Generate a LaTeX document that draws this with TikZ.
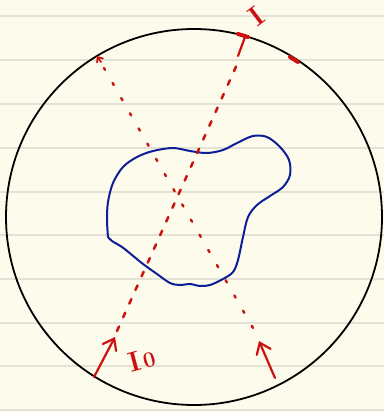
\documentclass[tikz,border=0pt]{standalone}
\usetikzlibrary{arrows.meta}
\definecolor{paper}{HTML}{FDFBEC}
\definecolor{rule}{HTML}{E4E2D6}
\definecolor{inkred}{HTML}{CC1111}
\definecolor{inkblue}{HTML}{0D1E96}
\tikzset{
  ruleline/.style={rule, line width=1.3pt},
  vessel/.style={black, line width=1.8pt},
  blob/.style={inkblue, line width=2pt, line join=round},
  beamA/.style={inkred, line width=2.5pt, line cap=round, dash pattern=on 5pt off 10pt},
  beamB/.style={inkred, line width=2.4pt, line cap=round, dash pattern=on 2.5pt off 15pt},
  ray/.style={inkred, line width=2.2pt, line cap=round, -{Straight Barb[length=10pt,width=15pt,line cap=round]}},
  smallray/.style={inkred, line width=1.8pt, line cap=round, -{Straight Barb[length=4pt,width=7pt,line cap=round]}},
  tick/.style={inkred, line width=4pt, line cap=round},
  lbl/.style={inkred, inner sep=0pt, font=\bfseries\fontsize{28}{28}\selectfont}
}
\begin{document}
\begin{tikzpicture}[x=1pt,y=-1pt]
\fill[paper] (0,0) rectangle (384,412);
\useasboundingbox (0,0) rectangle (384,412);
\foreach \y in {16,60,104,148,192,235,279,323,366,410}
  \draw[ruleline] (0,\y) -- (384,\y);
% vessel
\node[circle, draw, vessel, minimum size=376pt, inner sep=0pt] (vessel) at (194,217) {};
% object
\draw[blob] plot[smooth, tension=0.55] coordinates {
 (108,237) (107,220) (108,202) (113,183) (123,167) (137,157) (153,151) (173,148)
 (190,151) (207,153) (223,150) (237,143) (253,136) (267,137) (280,147) (289,160)
 (290,175) (283,187) (270,196) (257,205) (248,217) (243,237) (238,260) (233,272)
 (223,279) (210,285) (200,286) (190,284) (180,285) (170,283) (157,274) (143,264)
 (132,255) (122,247) (112,241) (108,237)};
% beam 1 (I0 -> I)
\coordinate (a1s) at (94,377);
\coordinate (a1t) at (115,337);
\coordinate (b1s) at (117,331);
\coordinate (b1e) at (239,60);
\coordinate (t1s) at (238,56);
\coordinate (t1e) at (245,37);
\draw[ray] (a1s) -- (a1t);
\draw[beamA] (b1s) -- (b1e);
\draw[inkred, line width=2.2pt, line cap=round] (t1s) -- (t1e);
\coordinate (m1a) at (238,34);
\coordinate (m1b) at (248,37);
\draw[tick] (m1a) -- (m1b);
\coordinate (m2a) at (290,57);
\coordinate (m2b) at (298,62);
\draw[tick] (m2a) -- (m2b);
% beam 2
\coordinate (a2s) at (275,378);
\coordinate (a2t) at (259,341);
\coordinate (b2s) at (253,328);
\coordinate (b2e) at (104,68);
\coordinate (t2s) at (101,62);
\coordinate (t2e) at (97,56);
\draw[ray] (a2s) -- (a2t);
\draw[beamB] (b2s) -- (b2e);
\draw[smallray] (t2s) -- (t2e);
% labels
\node[lbl, rotate=15] (lI0) at (142,360) {I\kern2pt{\fontsize{22}{22}\selectfont 0}};
\node[lbl, rotate=37] (lI) at (256,16) {I};
\end{tikzpicture}
\end{document}
